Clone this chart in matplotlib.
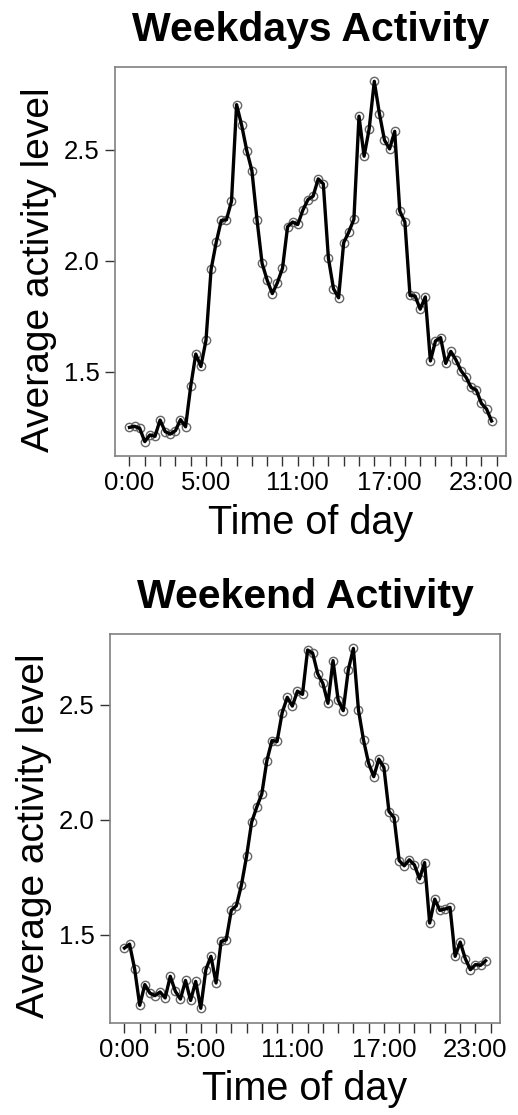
import numpy as np
import matplotlib
matplotlib.use("Agg")
import matplotlib.pyplot as plt

plt.rcParams['font.family'] = ['Liberation Sans', 'DejaVu Sans']

# average activity per 20-minute slot, 72 slots per day
weekday_activity = [
    1.250, 1.255, 1.246, 1.186, 1.216, 1.210, 1.283, 1.231, 1.220, 1.235,
    1.285, 1.253, 1.434, 1.580, 1.524, 1.642, 1.961, 2.082, 2.181, 2.184,
    2.267, 2.702, 2.609, 2.495, 2.405, 2.185, 1.988, 1.912, 1.852, 1.901,
    1.966, 2.153, 2.174, 2.163, 2.228, 2.275, 2.290, 2.368, 2.346, 2.012,
    1.874, 1.833, 2.081, 2.129, 2.186, 2.650, 2.470, 2.594, 2.807, 2.662,
    2.542, 2.503, 2.582, 2.223, 2.174, 1.844, 1.841, 1.782, 1.837, 1.549,
    1.639, 1.654, 1.538, 1.592, 1.554, 1.505, 1.475, 1.430, 1.418, 1.358,
    1.333, 1.279,
]
weekend_activity = [
    1.442, 1.459, 1.351, 1.193, 1.283, 1.246, 1.235, 1.251, 1.225, 1.319,
    1.254, 1.220, 1.301, 1.214, 1.297, 1.180, 1.348, 1.406, 1.290, 1.471,
    1.478, 1.606, 1.626, 1.717, 1.841, 1.990, 2.055, 2.113, 2.258, 2.345,
    2.341, 2.466, 2.533, 2.495, 2.560, 2.546, 2.739, 2.725, 2.635, 2.594,
    2.507, 2.693, 2.522, 2.475, 2.652, 2.746, 2.478, 2.346, 2.246, 2.188,
    2.264, 2.228, 2.036, 2.010, 1.823, 1.800, 1.826, 1.804, 1.743, 1.814,
    1.551, 1.655, 1.606, 1.612, 1.619, 1.406, 1.468, 1.396, 1.348, 1.370,
    1.367, 1.387,
]
hour_ticks = list(range(0, 73, 3))
hour_labels = {0: "0:00", 15: "5:00", 33: "11:00", 51: "17:00", 69: "23:00"}
y_ticks = [1.5, 2.0, 2.5]


def draw_panel(ax, values, title):
    x = np.arange(len(values))
    ax.plot(x, values, 'o', ms=6, mfc='none', mec='#666666', mew=1.0, zorder=2)
    ax.plot(x, values, '-', color='black', lw=2.4, zorder=3)

    pad_x = 0.04 * (x[-1] - x[0])
    ax.set_xlim(x[0] - pad_x, x[-1] + pad_x)
    lo, hi = min(values), max(values)
    pad_y = 0.04 * (hi - lo)
    ax.set_ylim(lo - pad_y, hi + pad_y)

    ax.set_xticks(hour_ticks)
    ax.set_xticklabels([hour_labels.get(t, "") for t in hour_ticks])
    ax.set_yticks(y_ticks)
    ax.set_yticklabels([str(v) for v in y_ticks])
    ax.tick_params(length=7, width=1, color='#333333', labelsize=18.5, pad=4)

    for side in ax.spines.values():
        side.set_color('#808080')
        side.set_linewidth(1.2)

    ax.set_title(title, fontsize=29.5, fontweight='bold', pad=19)
    ax.set_xlabel("Time of day", fontsize=28.5, labelpad=6)
    ax.set_ylabel("Average activity level", fontsize=28)
    ax.yaxis.set_label_coords(-0.148, 0.48)


fig = plt.figure(figsize=(5.18, 11.15), dpi=100)
ax_top = fig.add_axes([0.222, 0.591, 0.755, 0.349])
ax_bottom = fig.add_axes([0.2124, 0.0828, 0.753, 0.3486])

draw_panel(ax_top, weekday_activity, "Weekdays Activity")
draw_panel(ax_bottom, weekend_activity, "Weekend Activity")

fig.savefig("out.png", dpi=100)
